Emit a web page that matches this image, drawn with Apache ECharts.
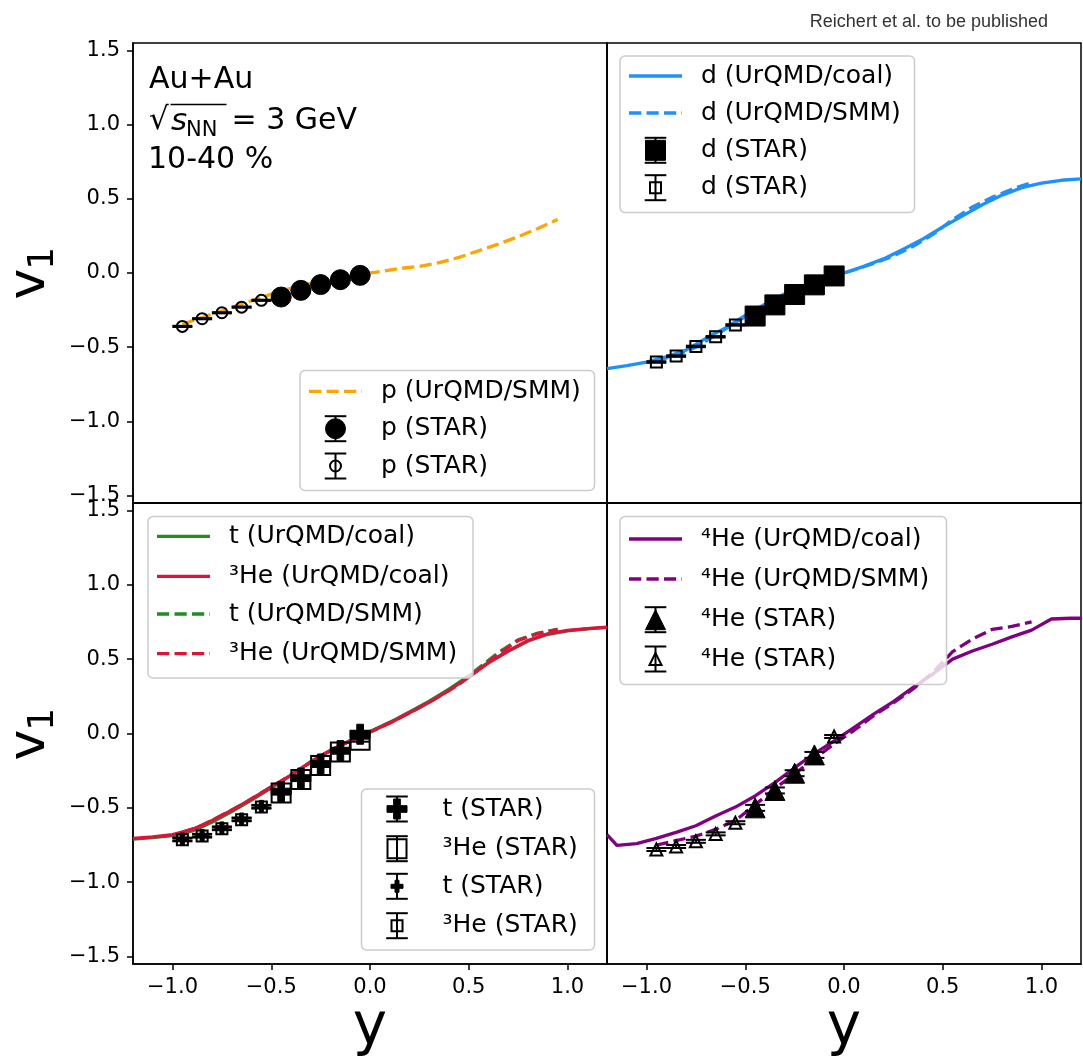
<!DOCTYPE html>
<html><head><meta charset="utf-8">
<script src="https://cdn.jsdelivr.net/npm/echarts@6/dist/echarts.min.js"></script>
<style>html,body{margin:0;padding:0;background:#fff}#c{width:1083px;height:1057px}</style>
</head><body><div id="c"></div>
<script>
// ---------- tick labels ----------
const xTicks = [-1.0, -0.5, 0.0, 0.5, 1.0];
const yTicks = [-1.5, -1.0, -0.5, 0.0, 0.5, 1.0, 1.5];

// ---------- rapidity bins ----------
const xSmall = [-0.95, -0.85, -0.75, -0.65, -0.55];
const xLarge = [-0.45, -0.35, -0.25, -0.15, -0.05];
const xFull = [-1.2, -1.1, -1.0, -0.9, -0.8, -0.7, -0.6, -0.5, -0.4, -0.3, -0.2, -0.1, 0.0,
               0.1, 0.2, 0.3, 0.4, 0.5, 0.6, 0.7, 0.8, 0.9, 1.0, 1.1, 1.2];
const xSmm = [-0.95, -0.85, -0.75, -0.65, -0.55, -0.45, -0.35, -0.25, -0.15, -0.05,
              0.05, 0.15, 0.25, 0.35, 0.45, 0.55, 0.65, 0.75, 0.85, 0.95];

// ---------- protons ----------
const pSmmY = [-0.345, -0.30, -0.255, -0.21, -0.165, -0.12, -0.085, -0.055, -0.03, -0.01,
               0.01, 0.03, 0.045, 0.07, 0.105, 0.15, 0.195, 0.245, 0.30, 0.36];
const pStarSmallY = [-0.36, -0.308, -0.268, -0.23, -0.184];
const pStarSmallErr = [0.004, 0.004, 0.004, 0.004, 0.004];
const pStarLargeY = [-0.162, -0.117, -0.078, -0.045, -0.016];
const pStarLargeErr = [0.004, 0.004, 0.004, 0.004, 0.004];

// ---------- deuterons ----------
const dCoalY = [-0.645, -0.625, -0.60, -0.565, -0.52, -0.44, -0.37, -0.285, -0.21, -0.14, -0.085, -0.04, 0.0,
                0.045, 0.095, 0.16, 0.23, 0.31, 0.385, 0.46, 0.525, 0.575, 0.605, 0.625, 0.635];
const dSmmY = [-0.59, -0.555, -0.50, -0.42, -0.335, -0.255, -0.18, -0.115, -0.065, -0.02,
               0.02, 0.065, 0.115, 0.18, 0.26, 0.36, 0.445, 0.51, 0.565, 0.61];
const dStarSmallY = [-0.60, -0.56, -0.495, -0.43, -0.35];
const dStarSmallErr = [0.005, 0.005, 0.005, 0.005, 0.005];
const dStarLargeY = [-0.29, -0.215, -0.145, -0.08, -0.02];
const dStarLargeErr = [0.005, 0.005, 0.005, 0.005, 0.005];

// ---------- tritons / 3He ----------
const tCoalY = [-0.71, -0.70, -0.687, -0.655, -0.597, -0.525, -0.448, -0.365, -0.282, -0.19, -0.113, -0.047, 0.013,
                0.075, 0.145, 0.217, 0.298, 0.387, 0.478, 0.555, 0.622, 0.667, 0.69, 0.703, 0.713];
const he3CoalY = [-0.705, -0.695, -0.68, -0.645, -0.585, -0.515, -0.44, -0.36, -0.28, -0.19, -0.115, -0.05, 0.01,
                  0.07, 0.14, 0.21, 0.29, 0.38, 0.475, 0.555, 0.625, 0.67, 0.693, 0.705, 0.715];
const tSmmY = [-0.665, -0.62, -0.55, -0.48, -0.40, -0.32, -0.235, -0.15, -0.08, -0.02,
               0.04, 0.105, 0.175, 0.25, 0.335, 0.44, 0.545, 0.63, 0.675, 0.70];
const he3SmmY = [-0.665, -0.62, -0.55, -0.48, -0.40, -0.32, -0.235, -0.15, -0.08, -0.02,
                 0.04, 0.105, 0.175, 0.25, 0.33, 0.43, 0.535, 0.625, 0.672, 0.70];
const tStarLargeY = [-0.39, -0.30, -0.205, -0.115, -0.005];
const he3StarLargeY = [-0.40, -0.31, -0.215, -0.125, -0.045];
const tStarSmallY = [-0.71, -0.685, -0.635, -0.575, -0.49];
const he3StarSmallY = [-0.715, -0.69, -0.64, -0.58, -0.495];
const tErr = [0.01, 0.01, 0.01, 0.01, 0.01];

// ---------- 4He ----------
const he4CoalX = [-1.2, -1.15, -1.05, -0.95, -0.85, -0.75, -0.65, -0.55, -0.45, -0.35, -0.25, -0.15, -0.05,
                  0.05, 0.15, 0.25, 0.35, 0.45, 0.55, 0.65, 0.75, 0.85, 0.95, 1.05, 1.15, 1.2];
const he4CoalY = [-0.68, -0.752, -0.74, -0.705, -0.665, -0.62, -0.555, -0.495, -0.42, -0.33, -0.23, -0.135, -0.05,
                  0.04, 0.13, 0.215, 0.31, 0.40, 0.50, 0.555, 0.60, 0.65, 0.695, 0.77, 0.775, 0.775];
const he4SmmY = [-0.75, -0.72, -0.69, -0.645, -0.585, -0.48, -0.37, -0.27, -0.17, -0.07,
                 0.02, 0.12, 0.205, 0.30, 0.41, 0.55, 0.635, 0.70, 0.72, 0.75];
const he4SmallX = [-0.95, -0.85, -0.75, -0.65, -0.55, -0.05];
const he4StarSmallY = [-0.78, -0.76, -0.725, -0.675, -0.60, -0.02];
const he4StarSmallErr = [0.01, 0.01, 0.01, 0.01, 0.01, 0.01];
const he4LargeX = [-0.45, -0.35, -0.25, -0.15];
const he4StarLargeY = [-0.50, -0.383, -0.267, -0.144];
const he4StarLargeErr = [0.02, 0.02, 0.02, 0.02];

// ---------- colours ----------
const ORANGE = '#FFA500', BLUE = '#1E90FF', GREEN = '#228B22', RED = '#DC143C', PURPLE = '#800080';
const FONT = "'DejaVu Sans', sans-serif";
const DASH = [12.2, 5.3];

const zip2 = (xs, ys) => xs.map((x, i) => [x, ys[i]]);
const zip3 = (xs, ys, es) => xs.map((x, i) => [x, ys[i], es[i]]);

function markerEl(shape, filled, size, cx, cy) {
  const h = size / 2;
  const style = filled ? { fill: '#000', stroke: '#000', lineWidth: 1 }
                       : { fill: 'none', stroke: '#000', lineWidth: 2 };
  if (shape === 'circle') return { type: 'circle', shape: { cx, cy, r: h }, style };
  if (shape === 'square') return { type: 'rect', shape: { x: cx - h, y: cy - h, width: size, height: size }, style };
  if (shape === 'triangle') return { type: 'polygon', shape: { points: [[cx, cy - h], [cx - h, cy + h], [cx + h, cy + h]] }, style };
  // filled plus ('P')
  const a = size / 6;
  const pts = [[-a, -3 * a], [-a, -a], [-3 * a, -a], [-3 * a, a], [-a, a], [-a, 3 * a], [a, 3 * a], [a, a],
               [3 * a, a], [3 * a, -a], [a, -a], [a, -3 * a]].map(p => [cx + p[0], cy + p[1]]);
  return { type: 'polygon', shape: { points: pts }, style };
}
function errBarEls(cx, top, bot, capHalf) {
  const st = { stroke: '#000', lineWidth: 2 };
  return [
    { type: 'line', shape: { x1: cx, y1: top, x2: cx, y2: bot }, style: st },
    { type: 'line', shape: { x1: cx - capHalf, y1: top, x2: cx + capHalf, y2: top }, style: st },
    { type: 'line', shape: { x1: cx - capHalf, y1: bot, x2: cx + capHalf, y2: bot }, style: st }
  ];
}
function starSeries(name, panel, xs, ys, es, shape, filled, size) {
  return {
    name, type: 'custom', xAxisIndex: panel, yAxisIndex: panel, z: 5, silent: true,
    data: zip3(xs, ys, es), encode: { x: 0, y: 1 },
    renderItem: (params, api) => {
      const x = api.value(0), y = api.value(1), e = api.value(2);
      const c = api.coord([x, y]);
      const top = api.coord([x, y + e])[1], bot = api.coord([x, y - e])[1];
      return { type: 'group', children: errBarEls(c[0], top, bot, 10).concat([markerEl(shape, filled, size, c[0], c[1])]) };
    }
  };
}
function modelSeries(name, panel, xs, ys, color, dashed) {
  return {
    name, type: 'line', xAxisIndex: panel, yAxisIndex: panel, z: 2, silent: true,
    data: zip2(xs, ys), showSymbol: false, symbol: 'none',
    lineStyle: { color, width: 3.3, type: dashed ? DASH : 'solid', cap: 'butt' }
  };
}

const series = [
  modelSeries('p (UrQMD/SMM)', 0, xSmm, pSmmY, ORANGE, true),
  starSeries('p (STAR)', 0, xLarge, pStarLargeY, pStarLargeErr, 'circle', true, 20),
  starSeries('p (STAR) ', 0, xSmall, pStarSmallY, pStarSmallErr, 'circle', false, 11),

  modelSeries('d (UrQMD/coal)', 1, xFull, dCoalY, BLUE, false),
  modelSeries('d (UrQMD/SMM)', 1, xSmm, dSmmY, BLUE, true),
  starSeries('d (STAR)', 1, xLarge, dStarLargeY, dStarLargeErr, 'square', true, 20),
  starSeries('d (STAR) ', 1, xSmall, dStarSmallY, dStarSmallErr, 'square', false, 11),

  modelSeries('t (UrQMD/coal)', 2, xFull, tCoalY, GREEN, false),
  modelSeries('³He (UrQMD/coal)', 2, xFull, he3CoalY, RED, false),
  modelSeries('t (UrQMD/SMM)', 2, xSmm, tSmmY, GREEN, true),
  modelSeries('³He (UrQMD/SMM)', 2, xSmm, he3SmmY, RED, true),
  starSeries('t (STAR)', 2, xLarge, tStarLargeY, tErr, 'plus', true, 20),
  starSeries('³He (STAR)', 2, xLarge, he3StarLargeY, tErr, 'square', false, 19),
  starSeries('t (STAR) ', 2, xSmall, tStarSmallY, tErr, 'plus', true, 12),
  starSeries('³He (STAR) ', 2, xSmall, he3StarSmallY, tErr, 'square', false, 11),

  modelSeries('⁴He (UrQMD/coal)', 3, he4CoalX, he4CoalY, PURPLE, false),
  modelSeries('⁴He (UrQMD/SMM)', 3, xSmm, he4SmmY, PURPLE, true),
  starSeries('⁴He (STAR)', 3, he4LargeX, he4StarLargeY, he4StarLargeErr, 'triangle', true, 20),
  starSeries('⁴He (STAR) ', 3, he4SmallX, he4StarSmallY, he4StarSmallErr, 'triangle', false, 12)
];

// ---------- legends (drawn as graphics, matplotlib style) ----------
const legends = [
  { box: [300, 370.5, 294.5, 120], items: [
    { y: 391.3, line: [ORANGE, true], text: 'p (UrQMD/SMM)' },
    { y: 428.7, marker: ['circle', true, 20], text: 'p (STAR)' },
    { y: 466, marker: ['circle', false, 11], text: 'p (STAR)' } ] },
  { box: [620, 56, 294.5, 156.5], items: [
    { y: 76, line: [BLUE, false], text: 'd (UrQMD/coal)' },
    { y: 113, line: [BLUE, true], text: 'd (UrQMD/SMM)' },
    { y: 150.3, marker: ['square', true, 20], text: 'd (STAR)' },
    { y: 187.7, marker: ['square', false, 11], text: 'd (STAR)' } ] },
  { box: [148, 516.5, 325, 161.5], items: [
    { y: 536.3, line: [GREEN, false], text: 't (UrQMD/coal)' },
    { y: 576.3, line: [RED, false], text: '³He (UrQMD/coal)' },
    { y: 614, line: [GREEN, true], text: 't (UrQMD/SMM)' },
    { y: 653.7, line: [RED, true], text: '³He (UrQMD/SMM)' } ] },
  { box: [361.5, 789, 233, 161], items: [
    { y: 809, marker: ['plus', true, 20], text: 't (STAR)' },
    { y: 848.7, marker: ['square', false, 19], text: '³He (STAR)' },
    { y: 886.3, marker: ['plus', true, 12], text: 't (STAR)' },
    { y: 925.7, marker: ['square', false, 11], text: '³He (STAR)' } ] },
  { box: [620, 516.5, 326.5, 168], items: [
    { y: 539, line: [PURPLE, false], text: '⁴He (UrQMD/coal)' },
    { y: 579, line: [PURPLE, true], text: '⁴He (UrQMD/SMM)' },
    { y: 619.7, marker: ['triangle', true, 20], text: '⁴He (STAR)' },
    { y: 659, marker: ['triangle', false, 12], text: '⁴He (STAR)' } ] }
];

const G = [];
legends.forEach(L => {
  const [bx, by, bw, bh] = L.box;
  G.push({ type: 'rect', z: 100, shape: { x: bx, y: by, width: bw, height: bh, r: 5 },
           style: { fill: 'rgba(255,255,255,0.8)', stroke: '#cccccc', lineWidth: 1.5 } });
  L.items.forEach(it => {
    if (it.line) {
      const st = { stroke: it.line[0], lineWidth: 3.3 };
      if (it.line[1]) st.lineDash = DASH;
      G.push({ type: 'line', z: 101, shape: { x1: bx + 9, y1: it.y, x2: bx + 62, y2: it.y }, style: st });
    } else {
      const mx = bx + 35.5;
      const els = errBarEls(mx, it.y - 12.5, it.y + 12.5, 10.8).concat([markerEl(it.marker[0], it.marker[1], it.marker[2], mx, it.y)]);
      els.forEach(e => { e.z = 101; G.push(e); });
    }
    G.push({ type: 'text', z: 101, x: bx + 81, y: it.y,
             style: { text: it.text, fontSize: 25, fontFamily: FONT, fill: '#000', align: 'left', verticalAlign: 'middle',
                      textAlign: 'left', textVerticalAlign: 'middle' } });
  });
});

// annotation text in the first panel
function txt(text, x, y, size, extra) {
  return { type: 'text', z: 50, x, y,
    style: Object.assign({ text, fontSize: size, fontFamily: FONT, fill: '#000', align: 'left', verticalAlign: 'middle',
                           textAlign: 'left', textVerticalAlign: 'middle' }, extra || {}) };
}
G.push(txt('Au+Au', 149, 80, 30));
G.push(txt('√', 149, 121, 31));
G.push({ type: 'line', z: 50, shape: { x1: 170.5, y1: 104.5, x2: 226.5, y2: 104.5 }, style: { stroke: '#000', lineWidth: 1.6 } });
G.push(txt('s', 171, 121.6, 31, { fontStyle: 'italic' }));
G.push(txt('NN', 186, 130.4, 21));
G.push(txt('= 3 GeV', 231.5, 121.6, 30));
G.push(txt('10-40 %', 148, 160, 30));

// axis titles
[0, 1].forEach(r => {
  const dy = r * 461;
  G.push({ type: 'text', z: 50, x: 30.3, y: 284.2 + dy, rotation: Math.PI / 2,
           style: { text: 'v', fontSize: 52, fontFamily: FONT, fill: '#000', align: 'center', verticalAlign: 'middle',
                    textAlign: 'center', textVerticalAlign: 'middle' } });
  G.push({ type: 'text', z: 50, x: 44, y: 258.3 + dy, rotation: Math.PI / 2,
           style: { text: '1', fontSize: 36, fontFamily: FONT, fill: '#000', align: 'center', verticalAlign: 'middle',
                    textAlign: 'center', textVerticalAlign: 'middle' } });
});
[370, 844].forEach(cx => {
  G.push({ type: 'text', z: 50, x: cx, y: 1029, style: { text: 'y', fontSize: 58, fontFamily: FONT, fill: '#000',
           align: 'center', verticalAlign: 'middle', textAlign: 'center', textVerticalAlign: 'middle' } });
});

const fmt = v => (v < 0 ? '\u2212' : '') + Math.abs(v).toFixed(1);
const grids = [
  { left: 133, top: 43, width: 474, height: 460 },
  { left: 607, top: 43, width: 474, height: 460 },
  { left: 133, top: 503, width: 474, height: 461 },
  { left: 607, top: 503, width: 474, height: 461 }
].map(g => Object.assign(g, { show: true, borderColor: '#000', borderWidth: 1.5, backgroundColor: 'transparent' }));

const xAxis = [0, 1, 2, 3].map(i => {
  const bottom = i >= 2;
  return {
    type: 'value', gridIndex: i, min: -1.2, max: 1.2, splitLine: { show: false }, position: 'bottom',
    axisLine: { show: true, onZero: false, lineStyle: { color: '#000', width: 1.5 } },
    axisTick: { show: bottom, length: 6, lineStyle: { color: '#000', width: 1.5 }, customValues: xTicks },
    axisLabel: { show: bottom, customValues: xTicks, formatter: fmt, fontSize: 21, fontFamily: FONT, color: '#000', margin: 13 }
  };
});
const yAxis = [0, 1, 2, 3].map(i => {
  const left = i % 2 === 0;
  return {
    type: 'value', gridIndex: i, min: -1.55, max: 1.55, splitLine: { show: false }, position: 'left',
    axisLine: { show: true, onZero: false, lineStyle: { color: '#000', width: 1.5 } },
    axisTick: { show: left, length: 6, lineStyle: { color: '#000', width: 1.5 }, customValues: yTicks },
    axisLabel: { show: left, customValues: yTicks, formatter: fmt, fontSize: 21, fontFamily: FONT, color: '#000', margin: 13 }
  };
});

const chart = echarts.init(document.getElementById('c'), null, { renderer: 'canvas' });
chart.setOption({
  animation: false,
  backgroundColor: '#fff',
  title: { text: 'Reichert et al. to be published', right: 35, top: 13, padding: 0,
           textStyle: { fontFamily: "'Liberation Sans', Arial, sans-serif", fontSize: 18, fontWeight: 'normal', color: '#333333' } },
  grid: grids, xAxis, yAxis, series,
  graphic: { elements: G }
});
</script></body></html>
